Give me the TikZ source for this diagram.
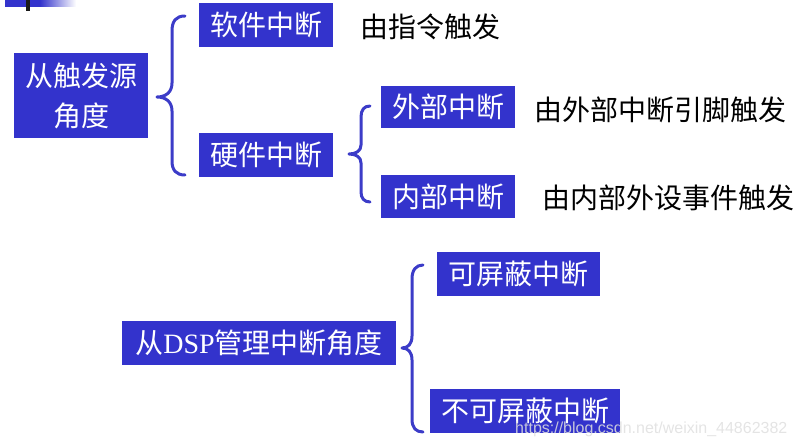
\documentclass[tikz,border=0pt]{standalone}
\usepackage{fontspec}
\setmainfont{Liberation Serif}
\newfontfamily\cjk{Noto Sans CJK SC}
\newfontfamily\wmfont{Liberation Sans}
\definecolor{boxblue}{RGB}{51,51,204}
\definecolor{braceblue}{RGB}{60,60,200}
\begin{document}
\begin{tikzpicture}[x=1pt,y=-1pt,
  bluebox/.style={fill=boxblue,text=white,inner sep=0pt,align=center,
    font=\cjk\fontsize{28}{40}\selectfont},
  plaintext/.style={anchor=base west,inner sep=0pt,text=black,
    font=\cjk\fontsize{28}{34}\selectfont},
  bracepath/.style={draw=braceblue,line width=3pt,line cap=round,line join=round}]
\useasboundingbox (0,0) rectangle (797,446);
% top-left decoration
\fill[boxblue] (5,0) rectangle (41,7);
\shade[left color=boxblue,right color=white,shading angle=90] (40,0) rectangle (76,7);
\fill[black!90] (26,0) rectangle (30,11);

% boxes
\node[bluebox,minimum width=134pt,minimum height=85pt] (src) at (81,95.5) {从触发源\\角度};
\node[bluebox,minimum width=134pt,minimum height=44pt] (soft) at (266,25) {软件中断};
\node[bluebox,minimum width=134pt,minimum height=44pt] (hard) at (266,155) {硬件中断};
\node[bluebox,minimum width=134pt,minimum height=42pt] (ext) at (448,107) {外部中断};
\node[bluebox,minimum width=134pt,minimum height=43pt] (int) at (448,196.5) {内部中断};
\node[bluebox,minimum width=274pt,minimum height=44pt] (dsp) at (259,343) {从{\rmfamily DSP}管理中断角度};
\node[bluebox,minimum width=163pt,minimum height=44pt] (mask) at (518.5,274) {可屏蔽中断};
\node[bluebox,minimum width=190pt,minimum height=44pt] (nmask) at (525,411) {不可屏蔽中断};

% plain texts
\node[plaintext] (t1) at (360,37.5) {由指令触发};
\node[plaintext] (t2) at (534,120.5) {由外部中断引脚触发};
\node[plaintext] (t3) at (542,208.5) {由内部外设事件触发};

% braces
\draw[bracepath] (185,16) .. controls (176,16) and (172,21) .. (172,31)
  -- (172,83) .. controls (172,92) and (166,97) .. (157,97)
  .. controls (166,97) and (172,102) .. (172,111)
  -- (172,161) .. controls (172,170) and (176,175) .. (185,175);
\draw[bracepath] (370,106) .. controls (364,106) and (361,110) .. (361,117)
  -- (361,145) .. controls (361,151) and (356,154) .. (349,154)
  .. controls (356,154) and (361,157) .. (361,163)
  -- (361,192) .. controls (361,198) and (364,202) .. (370,202);
\draw[bracepath] (423,265) .. controls (416,265) and (412,270) .. (412,279)
  -- (412,336) .. controls (412,344) and (408,348) .. (402,348)
  .. controls (408,348) and (412,352) .. (412,360)
  -- (412,419) .. controls (412,428) and (416,432) .. (423,432);

% watermark
\node[anchor=base west,inner sep=0pt,text=gray!25,opacity=0.85,
  font=\wmfont\fontsize{16}{18}\selectfont] (wm) at (515,433) {https://blog.csdn.net/weixin\_44862382};
\end{tikzpicture}
\end{document}
